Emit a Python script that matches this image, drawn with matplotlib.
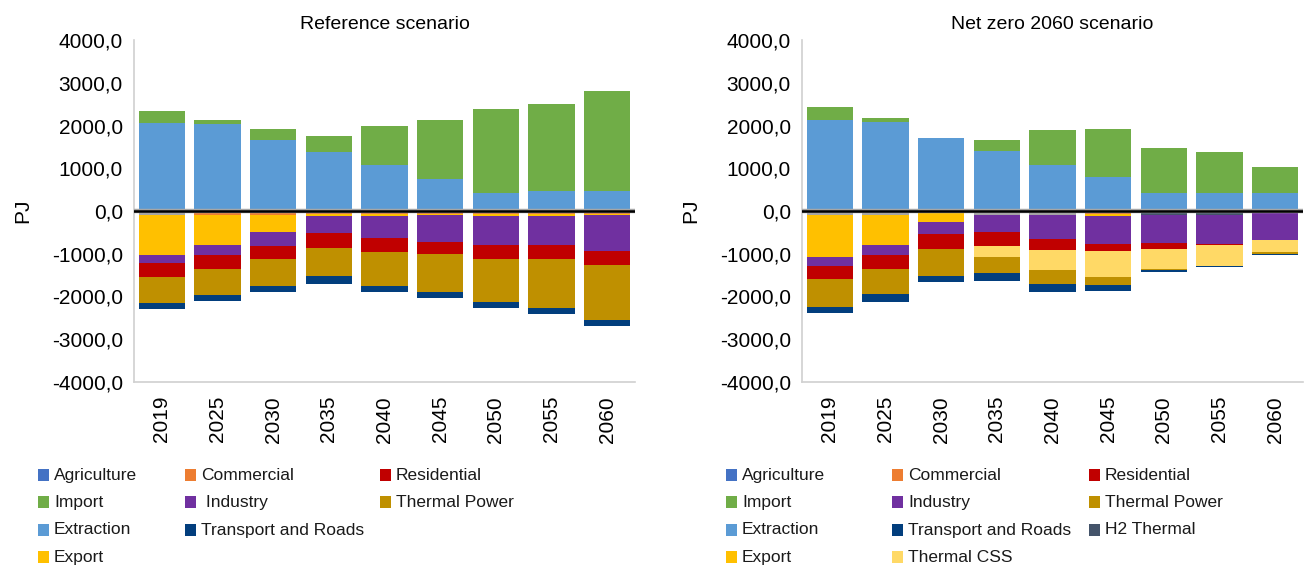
import matplotlib
matplotlib.use("Agg")
import matplotlib.pyplot as plt
from matplotlib.patches import Rectangle
from matplotlib.ticker import FuncFormatter
import numpy as np

years = ["2019", "2025", "2030", "2035", "2040", "2045", "2050", "2055", "2060"]

# Reference scenario (PJ)
ref_extraction = [2070, 2030, 1650, 1370, 1070, 745, 430, 460, 460]
ref_import = [260, 95, 260, 375, 930, 1375, 1950, 2035, 2340]
ref_agriculture = [-10, -10, -10, -10, -10, -10, -10, -10, -10]
ref_commercial = [-20, -85, -85, -65, -65, -55, -65, -65, -55]
ref_other = [-65, 0, 0, 0, 0, 0, 0, 0, 0]
ref_export = [-940, -690, -385, -45, -45, -40, -45, -45, -40]
ref_h2 = [0, 0, 0, 0, 0, 0, 0, 0, 0]
ref_industry = [-190, -235, -330, -405, -500, -620, -665, -665, -830]
ref_residential = [-315, -330, -305, -350, -330, -280, -330, -330, -330]
ref_css = [0, 0, 0, 0, 0, 0, 0, 0, 0]
ref_thermal = [-610, -610, -635, -635, -800, -890, -1010, -1150, -1290]
ref_transport = [-140, -140, -140, -190, -140, -140, -140, -140, -140]

# Net zero 2060 scenario (PJ)
nz_extraction = [2120, 2075, 1700, 1415, 1070, 790, 430, 430, 430]
nz_import = [305, 95, 0, 235, 820, 1120, 1055, 940, 610]
nz_agriculture = [-10, -10, -10, -10, -10, -10, -10, -10, -10]
nz_commercial = [-20, -20, -20, -20, -20, -70, -10, -10, -10]
nz_other = [-65, -65, -25, -65, -65, 0, 0, 0, 0]
nz_export = [-970, -690, -210, 0, 0, -45, -30, -25, -30]
nz_h2 = [0, 0, 0, 0, 0, 0, -45, -45, 0]
nz_industry = [-210, -235, -280, -385, -550, -655, -655, -690, -640]
nz_residential = [-305, -330, -350, -330, -260, -165, -140, -25, 0]
nz_css = [0, 0, 0, -260, -470, -610, -470, -470, -260]
nz_thermal = [-655, -585, -635, -375, -330, -165, -25, 0, -45]
nz_transport = [-140, -190, -140, -190, -190, -140, -45, -45, -45]

# legend layout (column-major)
ref_legend = [["Agriculture", "Import", "Extraction", "Export"],
              ["Commercial", " Industry", "Transport and Roads"],
              ["Residential", "Thermal Power"]]
nz_legend = [["Agriculture", "Import", "Extraction", "Export"],
             ["Commercial", "Industry", "Transport and Roads", "Thermal CSS"],
             ["Residential", "Thermal Power", "H2 Thermal"]]

colors = {
    "Agriculture": "#4472C4",
    "Commercial": "#ED7D31",
    "Residential": "#C00000",
    "Import": "#70AD47",
    "Industry": "#7030A0",
    "Thermal Power": "#BF9000",
    "Extraction": "#5B9BD5",
    "Transport and Roads": "#023E7D",
    "Export": "#FFC000",
    "H2 Thermal": "#44546A",
    "Thermal CSS": "#FFD966",
    "Other": "#A5A5A5",
}

W, H = 1304, 565
fig = plt.figure(figsize=(W / 100, H / 100), dpi=100)
axL = fig.add_axes([134 / W, 1 - 382 / H, 501 / W, 342 / H])
axR = fig.add_axes([802 / W, 1 - 382 / H, 501 / W, 342 / H])

tickfont = ["Liberation Sans", "DejaVu Sans"]


def draw(ax, title, pos, neg):
    x = np.arange(len(years))
    w = 0.83
    bottom = np.zeros(len(years))
    for name, vals in pos:
        v = np.array(vals, dtype=float)
        ax.bar(x, v, w, bottom=bottom, color=colors[name], linewidth=0)
        bottom += v
    bottom = np.zeros(len(years))
    for name, vals in neg:
        v = np.array(vals, dtype=float)
        ax.bar(x, v, w, bottom=bottom, color=colors[name], linewidth=0)
        bottom += v
    ax.axhline(0, color="#A6A6A6", lw=3.2, zorder=3)
    ax.axhline(0, color="black", lw=1.8, zorder=4)
    ax.set_xlim(-0.5, len(years) - 0.5)
    ax.set_ylim(-4000, 4000)
    ax.set_yticks(np.arange(-4000, 4001, 1000))
    ax.yaxis.set_major_formatter(FuncFormatter(lambda v, p: f"{v:.1f}".replace(".", ",")))
    ax.set_xticks(x)
    ax.set_xticklabels(years, rotation=90)
    ax.tick_params(axis="both", length=0, labelsize=15, pad=8)
    ax.tick_params(axis="x", pad=10)
    for lab in ax.get_xticklabels() + ax.get_yticklabels():
        lab.set_family(tickfont)
    for s in ["top", "right"]:
        ax.spines[s].set_visible(False)
    for s in ["left", "bottom"]:
        ax.spines[s].set_color("#D0D0D0")
        ax.spines[s].set_linewidth(1.2)
    ax.set_ylabel("PJ", fontsize=15, family=tickfont, labelpad=14)
    ax.set_title(title, fontsize=14, family=tickfont, pad=8)


draw(axL, "Reference scenario",
     [("Extraction", ref_extraction), ("Import", ref_import)],
     [("Agriculture", ref_agriculture), ("Commercial", ref_commercial), ("Other", ref_other),
      ("Export", ref_export), ("H2 Thermal", ref_h2), ("Industry", ref_industry),
      ("Residential", ref_residential), ("Thermal CSS", ref_css),
      ("Thermal Power", ref_thermal), ("Transport and Roads", ref_transport)])
draw(axR, "Net zero 2060 scenario",
     [("Extraction", nz_extraction), ("Import", nz_import)],
     [("Agriculture", nz_agriculture), ("Commercial", nz_commercial), ("Other", nz_other),
      ("Export", nz_export), ("H2 Thermal", nz_h2), ("Industry", nz_industry),
      ("Residential", nz_residential), ("Thermal CSS", nz_css),
      ("Thermal Power", nz_thermal), ("Transport and Roads", nz_transport)])


def legend(cols, col_x):
    row_y = [475, 502, 529.5, 557]
    for ci, col in enumerate(cols):
        for ri, name in enumerate(col):
            mx = col_x[ci]
            my = row_y[ri]
            fig.add_artist(Rectangle((mx / W, 1 - (my + 6) / H), 11 / W, 12 / H,
                                     transform=fig.transFigure, facecolor=colors[name.strip()],
                                     edgecolor="none"))
            fig.text((mx + 16) / W, 1 - (my + 5) / H, name, fontsize=12.5, family=tickfont,
                     va="baseline", ha="left", color="#1a1a1a")


legend(ref_legend, [38, 185, 380])
legend(nz_legend, [726, 892, 1089])

fig.savefig("out.png", dpi=100)
